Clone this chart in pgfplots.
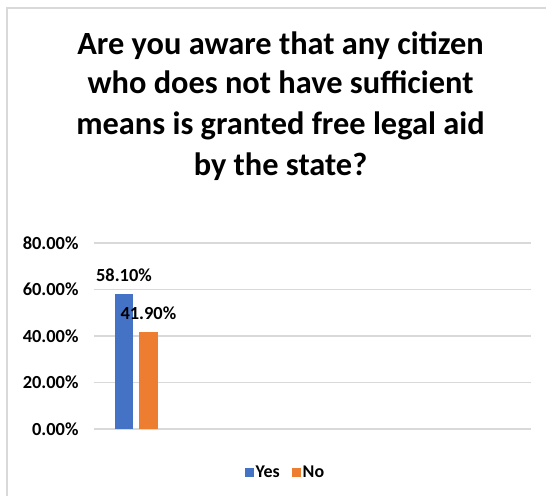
\documentclass[border=0pt]{standalone}
\usepackage{fontspec}
\setmainfont{Carlito}
\usepackage{pgfplots}
\pgfplotsset{compat=1.18}
\definecolor{cYes}{HTML}{4472C4}
\definecolor{cNo}{HTML}{ED7D31}
\definecolor{cGrid}{HTML}{D9D9D9}
\begin{document}
\begin{tikzpicture}[x=1bp,y=1bp]
\useasboundingbox (-94,-67) rectangle (452,429);
\draw[cGrid,line width=1.2bp] (-87,-67) -- (-87,421) -- (452,421);
\begin{axis}[
  at={(0,0)}, anchor=south west,
  scale only axis, width=437bp, height=186bp,
  xmin=0, xmax=5, ymin=0, ymax=80,
  ytick={0,20,40,60,80}, xtick=\empty,
  axis line style={draw=none},
  major tick length=0pt,
  ymajorgrids, grid style={cGrid, line width=1.2bp},
  /pgf/number format/assume math mode=true,
  yticklabel={\pgfmathprintnumber[fixed,fixed zerofill,precision=2]{\tick}\%},
  yticklabel style={font=\bfseries\fontsize{18.5}{22}\selectfont, xshift=-12bp},
  ybar, bar width=0.21,
  nodes near coords={\pgfmathprintnumber[fixed,fixed zerofill,precision=2]{\pgfplotspointmeta}\%},
  every node near coord/.append style={font=\bfseries\fontsize{18.5}{22}\selectfont, text=black, yshift=8.5bp},
  legend style={at={(0.438,-0.234)}, anchor=center, draw=none, legend columns=2,
    font=\bfseries\fontsize{18}{21}\selectfont,
    /tikz/every even column/.append style={column sep=10bp}},
  legend image code/.code={\fill[#1] (0bp,-4.5bp) rectangle (9bp,4.5bp);},
]
\addplot[fill=cYes, draw=none, bar shift=0pt] coordinates {(0.343,58.1)};
\addplot[fill=cNo, draw=none, bar shift=0pt] coordinates {(0.622,41.9)};
\legend{Yes,No}
\end{axis}
\begin{scope}[font=\bfseries\fontsize{32.5}{40}\selectfont]
\node[anchor=base,inner sep=0] at (186.5,374.7) {Are you aware that any citizen};
\node[anchor=base,inner sep=0] at (186.5,335) {who does not have sufficient};
\node[anchor=base,inner sep=0] at (186.5,294) {means is granted free legal aid};
\node[anchor=base,inner sep=0] at (186.5,253.3) {by the state?};
\end{scope}
\end{tikzpicture}
\end{document}
